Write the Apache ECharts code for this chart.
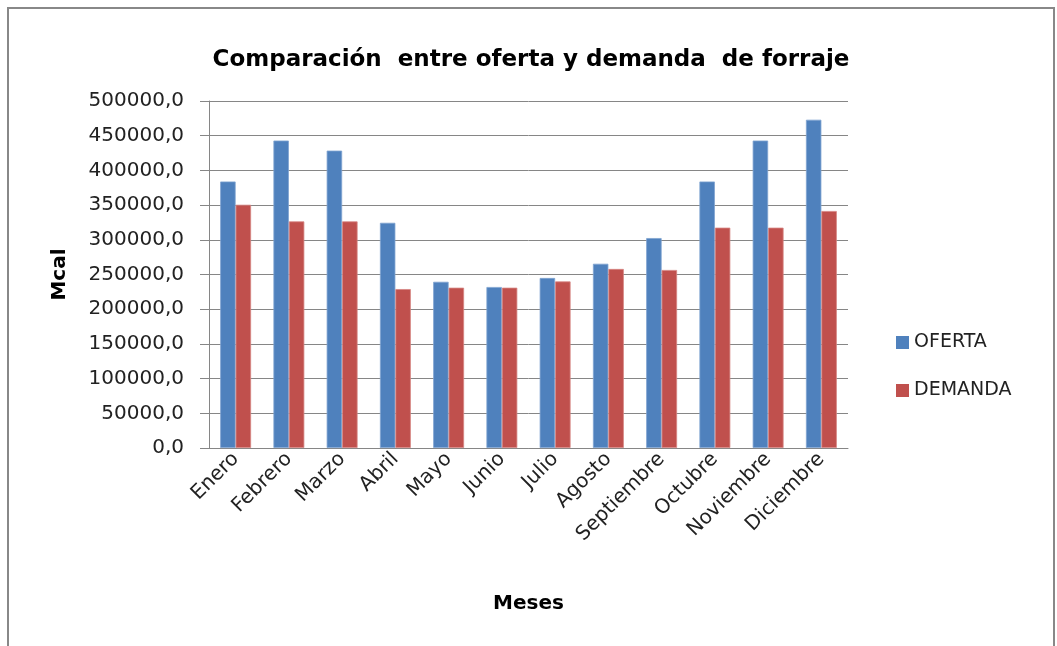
<!DOCTYPE html>
<html>
<head>
<meta charset="utf-8">
<script src="https://cdn.jsdelivr.net/npm/echarts@6/dist/echarts.min.js"></script>
<style>
html,body{margin:0;padding:0;background:#fff;}
#chart{width:1057px;height:646px;}
</style>
</head>
<body>
<div id="chart"></div>
<script>
const categories = ['Enero','Febrero','Marzo','Abril','Mayo','Junio','Julio','Agosto','Septiembre','Octubre','Noviembre','Diciembre'];
const oferta = [384000, 443000, 428500, 324500, 239500, 232000, 245000, 265500, 302500, 384000, 443000, 473000];
const demanda = [350500, 326500, 326500, 229000, 231000, 231000, 240000, 258000, 256500, 317500, 317500, 341500];
const yTicks = [0, 50000, 100000, 150000, 200000, 250000, 300000, 350000, 400000, 450000, 500000];

const FONT = 'DejaVu Sans';
const chart = echarts.init(document.getElementById('chart'), null, {renderer: 'canvas'});
chart.setOption({
  backgroundColor: '#fff',
  animation: false,
  title: {
    text: 'Comparación  entre oferta y demanda  de forraje',
    left: 526, top: 44, textAlign: 'center',
    textStyle: {fontFamily: FONT, fontWeight: 'bold', fontSize: 23, color: '#000'}
  },
  graphic: [{
    type: 'rect', shape: {x: 8, y: 8, width: 1046, height: 660},
    style: {fill: 'none', stroke: '#888', lineWidth: 2}, silent: true
  }],
  legend: {
    orient: 'vertical', left: 891, top: 327,
    itemWidth: 13, itemHeight: 13, itemGap: 27,
    icon: 'rect',
    itemStyle: {borderWidth: 0},
    textStyle: {fontFamily: FONT, fontSize: 19, color: '#222', lineHeight: 21},
    data: ['OFERTA', 'DEMANDA']
  },
  grid: {left: 209, right: 209, top: 101, bottom: 198, containLabel: false},
  xAxis: {
    type: 'category', data: categories,
    name: 'Meses', nameLocation: 'middle', nameGap: 146,
    nameTextStyle: {fontFamily: FONT, fontWeight: 'bold', fontSize: 20, color: '#000'},
    axisLine: {lineStyle: {color: '#868686', width: 1}},
    axisTick: {show: false},
    axisLabel: {rotate: 45, margin: 8, interval: 0, fontFamily: FONT, fontSize: 20, color: '#222'}
  },
  yAxis: {
    type: 'value', min: 0, max: 500000, interval: 50000,
    name: 'Mcal', nameLocation: 'middle', nameGap: 139, nameRotate: 90,
    nameTextStyle: {fontFamily: FONT, fontWeight: 'bold', fontSize: 20, color: '#000'},
    axisLine: {show: true, lineStyle: {color: '#868686', width: 1}},
    axisTick: {show: true, length: 9, lineStyle: {color: '#868686'}},
    splitLine: {lineStyle: {color: '#868686', width: 1}},
    axisLabel: {
      margin: 25, fontFamily: FONT, fontSize: 20, color: '#222',
      formatter: function (v) { return yTicks.indexOf(v) >= 0 ? v.toFixed(1).replace('.', ',') : ''; }
    }
  },
  series: [
    {name: 'OFERTA', type: 'bar', data: oferta, barGap: '0%', barCategoryGap: '42%',
     itemStyle: {color: '#4F81BD', borderColor: '#7FA3D0', borderWidth: 0.8}},
    {name: 'DEMANDA', type: 'bar', data: demanda, barGap: '0%', barCategoryGap: '42%',
     itemStyle: {color: '#C0504D', borderColor: '#D58482', borderWidth: 0.8}}
  ]
});
</script>
</body>
</html>
